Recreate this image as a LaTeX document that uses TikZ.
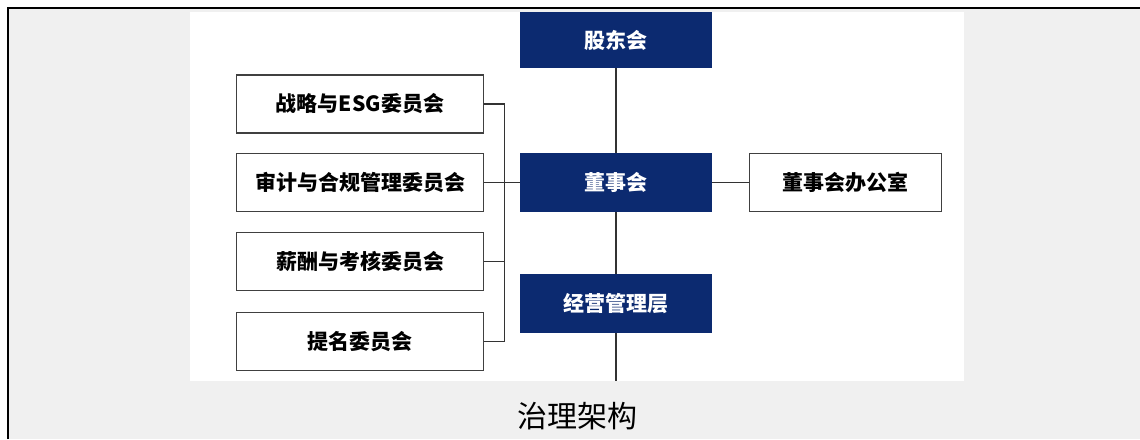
\documentclass[tikz,border=0pt]{standalone}
\usepackage{fontspec}
\newfontfamily\cjk{Noto Sans CJK SC}
\usepackage{tikz}
\definecolor{navy}{RGB}{12,42,112}
\definecolor{bggray}{RGB}{240,240,240}
\definecolor{boxline}{RGB}{64,64,64}
\tikzset{
	darkbox/.style={fill=navy, text=white, minimum width=96pt, minimum height=29.5pt, inner sep=0pt, font=\cjk\bfseries\fontsize{10.5}{12}\selectfont},
	lightbox/.style={draw=boxline, line width=0.75pt, fill=white, minimum width=123.5pt, minimum height=29pt, inner sep=0pt, font=\cjk\bfseries\fontsize{10.5}{12}\selectfont},
	link/.style={draw=black!80, line width=0.7pt}
}

\begin{document}
\begin{tikzpicture}[x=0.5pt, y=-0.5pt]
	\useasboundingbox (0,0) rectangle (1140,439);
	% frame and panels
	\fill[bggray] (8,8) rectangle (1140,439);
	\draw[line width=0.8pt] (8,439) -- (8,8) -- (1140,8);
	\fill[white] (190,12) rectangle (964,381);
	
	% main line
	\node[darkbox, minimum height=28pt] (gudong) at (616,40) {股东会};
	\node[darkbox] (dongshi) at (616,182.5) {董事会};
	\node[darkbox] (jingying) at (616,303.5) {经营管理层};
	\node[lightbox, minimum width=96pt] (office) at (845.5,182.5) {董事会办公室};
	\coordinate (jyend) at (616,381);
	
	% committees
	\foreach \y/\name/\txt in {104/zhanlue/战略与ESG委员会, 182.5/shenji/审计与合规管理委员会, 261.5/xinchou/薪酬与考核委员会, 341.5/timing/提名委员会} {
		\node[lightbox] (\name) at (360,\y) {\txt};
	}
	
	\draw[link] (gudong) -- (dongshi);
	\draw[link] (dongshi) -- (jingying);
	\draw[link] (jingying) -- (jyend);
	\draw[link] (dongshi) -- (office);
	\draw[link] (shenji) -- (dongshi);
	\draw[link] (zhanlue.east) -- ++(10pt,0) |- (timing.east);
	\draw[link] (xinchou.east) -- ++(10pt,0);
	
	\node[font=\cjk\fontsize{15}{18}\selectfont] (caption) at (577,416) {治理架构};
\end{tikzpicture}
\end{document}
